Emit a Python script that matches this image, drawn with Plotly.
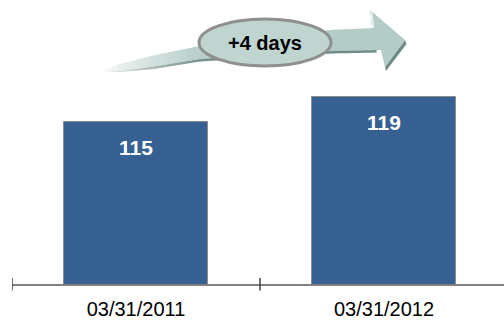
import numpy as np
import plotly.graph_objects as go

# Data
dates = ["03/31/2011", "03/31/2012"]
days = [115, 119]

# Canvas geometry (pixels)
W, H = 504, 320
ML, MR, MT, MB = 12, 0, 0, 36
PW, PH = W - ML - MR, H - MT - MB

BAR_COLOR = "#366092"
BAR_EDGE = "#8c8c8c"
TEAL = (179, 204, 199)
TEAL_DARK = (112, 138, 133)
FONT = "Arial, Liberation Sans"


def px(x):
    return (x - ML) / PW


def py(y):
    return (H - MB - y) / PH


def path(pts):
    return "M " + " L ".join(f"{px(x):.5f},{py(y):.5f}" for x, y in pts) + " Z"


def mix(c, t):
    r, g, b = (round(255 + (ci - 255) * t) for ci in c)
    return f"rgb({r},{g},{b})"


fig = go.Figure()

fig.add_trace(go.Bar(
    x=[0, 1], y=days, width=0.577,
    marker=dict(color=BAR_COLOR, line=dict(color=BAR_EDGE, width=1)),
    hoverinfo="skip", showlegend=False,
))

# Value labels near the top of each bar
for i, v in enumerate(days):
    fig.add_annotation(x=i, y=v, yref="y", xref="x", text=f"<b>{v}</b>",
                       showarrow=False, yshift=-26, xanchor="center", yanchor="middle",
                       font=dict(family=FONT, size=21, color="white"))

shapes = []

# Swoosh arrow: tapered shaft with a white-to-teal gradient built from slices
ax = [100, 120, 150, 200, 260, 330, 376]
atop = [71, 64, 56, 46, 37, 30, 28]
abot = [72, 71, 67, 59, 55, 51, 50]
xs = np.linspace(100, 376, 46)
tops = np.interp(xs, ax, atop)
bots = np.interp(xs, ax, abot)
for k in range(len(xs) - 1):
    t = min(1.0, max(0.0, (xs[k] - 98) / 110)) ** 0.7
    col = mix(TEAL, t)
    x0, x1 = xs[k], xs[k + 1] + 0.6
    shapes.append(dict(type="path", xref="paper", yref="paper", layer="above",
                       path=path([(x0, tops[k]), (x1, tops[k + 1]), (x1, bots[k + 1]), (x0, bots[k])]),
                       fillcolor=col, line=dict(width=0)))
    dcol = mix(TEAL_DARK, t)
    th0 = 2.5 * min(1.0, (xs[k] - 100) / 50)
    th1 = 2.5 * min(1.0, (xs[k + 1] - 100) / 50)
    shapes.append(dict(type="path", xref="paper", yref="paper", layer="above",
                       path=path([(x0, bots[k]), (x1, bots[k + 1]), (x1, bots[k + 1] + th1), (x0, bots[k] + th0)]),
                       fillcolor=dcol, line=dict(width=0)))

# Arrow head with a darker lower edge
shapes.append(dict(type="path", xref="paper", yref="paper", layer="above",
                   path=path([(405, 40), (406.5, 44), (386, 71), (385, 67)]),
                   fillcolor=mix(TEAL_DARK, 1), line=dict(width=0)))
shapes.append(dict(type="path", xref="paper", yref="paper", layer="above",
                   path=path([(372, 28), (370, 10), (405, 40), (385, 67), (381, 50), (372, 50)]),
                   fillcolor=mix(TEAL, 1), line=dict(width=0)))
# light rim along the back of the head
shapes.append(dict(type="path", xref="paper", yref="paper", layer="above",
                   path=path([(370, 10), (372.5, 12), (374.5, 28), (372, 28)]),
                   fillcolor="rgb(228,238,236)", line=dict(width=0)))

# Oval badge with the difference between the two dates
shapes.append(dict(type="circle", xref="paper", yref="paper", layer="above",
                   x0=px(199), x1=px(331), y0=py(66), y1=py(19),
                   fillcolor="#c0d4d0", line=dict(color="#8f8f8f", width=3)))
fig.add_annotation(xref="paper", yref="paper", x=px(265), y=py(43),
                   xanchor="center", yanchor="middle",
                   text=f"<b>+{days[1] - days[0]} days</b>", showarrow=False,
                   font=dict(family=FONT, size=20, color="black"))

# Category boundary ticks crossing the axis line
for b in [-0.5, 0.5, 1.5]:
    shapes.append(dict(type="line", xref="x", yref="paper", layer="above",
                       x0=b, x1=b, y0=-6.5 / PH, y1=6 / PH,
                       line=dict(color="#404040", width=1.5)))

fig.update_layout(
    width=W, height=H,
    margin=dict(l=ML, r=MR, t=MT, b=MB),
    plot_bgcolor="white", paper_bgcolor="white",
    shapes=shapes,
    xaxis=dict(range=[-0.5, -0.5 + PW / 248], tickvals=[0, 1], ticktext=dates,
               showgrid=False, zeroline=False, showline=True, linecolor="#808080",
               linewidth=2, ticks="", automargin=False, fixedrange=True,
               ticklabelstandoff=6,
               tickfont=dict(family=FONT, size=20, color="black")),
    yaxis=dict(range=[89, 89 + PH / 6.25], visible=False, automargin=False, fixedrange=True),
    bargap=0,
)

fig.write_html("out.html")
